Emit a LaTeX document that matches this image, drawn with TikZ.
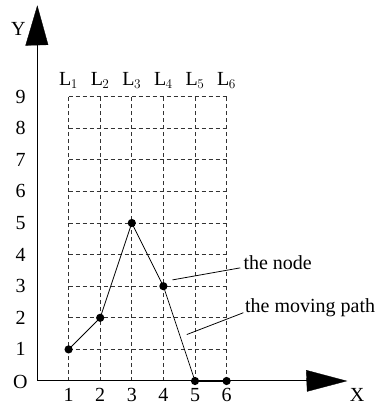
\documentclass[tikz,border=0pt]{standalone}
\usepackage{fontspec}
\setmainfont{Liberation Serif}
\begin{document}
\begin{tikzpicture}[x=1cm,y=1cm,
  gridline/.style={black!80, line width=0.6pt, dash pattern=on 3.6pt off 2.7pt},
  axisline/.style={black, line width=0.9pt},
  pathline/.style={black, line width=0.7pt},
  lbl/.style={font=\fontsize{18}{21}\selectfont, inner sep=0pt},
  dot/.style={circle, fill=black, inner sep=0pt, minimum size=7.4pt},
  arrowfill/.style={fill=black, draw=black, line width=0.3pt}]
\useasboundingbox (-1.171,-0.728) rectangle (10.791,12.057);
% grid
\foreach \i in {1,...,6} \draw[gridline] (\i,0) -- (\i,9);
\foreach \j in {1,...,9} \draw[gridline] (1,\j) -- (6,\j);
% axes
\coordinate (O) at (0,0);
\coordinate (xb) at (8.53,0);
\coordinate (yb) at (0,10.62);
\draw[axisline] (O) -- (xb);
\draw[axisline] (O) -- (yb);
\fill[arrowfill] (8.52,0.34) -- (9.8,0.0) -- (8.55,-0.33) -- cycle;
\fill[arrowfill] (-0.36,10.62) -- (0.01,11.87) -- (0.35,10.64) -- cycle;
\node[lbl] (ylab) at (-0.59,11.15) {Y};
\node[lbl] (xlab) at (10.13,-0.43) {X};
\node[lbl] (olab) at (-0.53,-0.03) {O};
% tick labels
\foreach \i in {1,...,6} \node[lbl] (xt\i) at (\i,-0.43) {\i};
\foreach \j in {1,...,9} \node[lbl] (yt\j) at (-0.52,\j) {\j};
\foreach \i in {1,...,6} \node[lbl, anchor=base] (L\i) at (\i,9.34) {L\kern-0.5pt$_{\i}$};
% path
\node[dot] (p1) at (1,1) {};
\node[dot] (p2) at (2,2) {};
\node[dot] (p3) at (3,5) {};
\node[dot] (p4) at (4,3) {};
\node[dot] (p5) at (5,0) {};
\node[dot] (p6) at (6,0) {};
\draw[pathline] (p1.center) -- (p2.center) -- (p3.center) -- (p4.center) -- (p5.center);
\draw[black, line width=1.8pt] (p5.center) -- (p6.center);
% annotations
\node[lbl, anchor=west] (tnode) at (6.53,3.73) {the node};
\node[lbl, anchor=west] (tpath) at (6.58,2.31) {the moving path};
\coordinate (a1) at (4.29,3.20);
\coordinate (a2) at (4.74,1.47);
\draw[pathline] (a1) -- ([xshift=-0.1cm,yshift=-0.15cm]tnode.west);
\draw[pathline] (a2) -- ([xshift=-0.05cm,yshift=-0.15cm]tpath.west);
\end{tikzpicture}
\end{document}
